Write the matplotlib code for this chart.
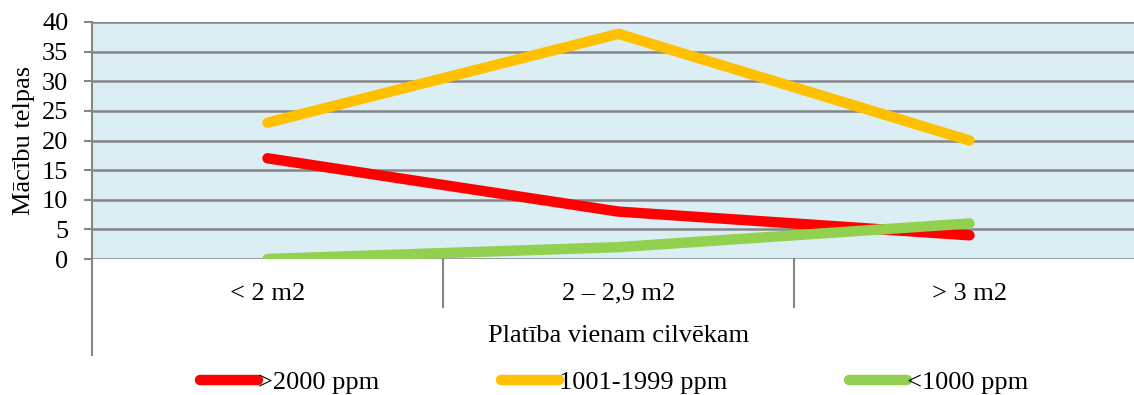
import numpy as np
import matplotlib.pyplot as plt
from matplotlib.transforms import blended_transform_factory

plt.rcParams['font.family'] = ['Liberation Serif', 'DejaVu Serif']

categories = ['< 2 m2', '2 – 2,9 m2', '> 3 m2']
high = [17, 8, 4]
mid = [23, 38, 20]
low = [0, 2, 6]
series_names = ['>2000 ppm', '1001-1999 ppm', '<1000 ppm']
colors = ['#FF0000', '#FFC000', '#92D050']

W, H = 1134, 395
fig = plt.figure(figsize=(W / 100, H / 100), dpi=100)
ax = fig.add_axes([92 / W, 1 - 259 / H, (1145 - 92) / W, (259 - 22) / H])
ax.set_facecolor('#DBEEF4')

x = np.arange(len(categories))
for vals, name, c in zip([high, mid, low], series_names, colors):
    ax.plot(x, vals, color=c, lw=7.5, solid_capstyle='round', label=name, zorder=3)

ax.set_xlim(-0.5, 2.5)
ax.set_ylim(0, 40)
ax.set_yticks(range(0, 41, 5))
ax.yaxis.grid(True, color='#868686', lw=1.8)
ax.set_axisbelow(True)
ax.tick_params(axis='y', length=6, width=1.5, color='#868686', labelsize=19, pad=11)
ax.set_xticks(x)
ax.set_xticklabels(categories, fontsize=19)
ax.tick_params(axis='x', length=0, pad=17)
for s in ax.spines.values():
    s.set_visible(False)

# axis lines in Excel style
tr = blended_transform_factory(ax.transData, ax.transAxes)
ax.plot([-0.5, -0.5], [1, -96 / 237], transform=tr, color='#868686', lw=1.5, clip_on=False)
for b in [0.5, 1.5]:
    ax.plot([b, b], [0, -48 / 237], transform=tr, color='#868686', lw=1.5, clip_on=False)

ax.set_ylabel('Mācību telpas', fontsize=19, labelpad=5)
ax.set_xlabel('Platība vienam cilvēkam', fontsize=19, labelpad=15)

leg = ax.legend(loc='center', bbox_to_anchor=(614 / W, 1 - 382 / H), bbox_transform=fig.transFigure,
                ncol=3, frameon=False, fontsize=19, handlelength=2.2, handletextpad=0.0,
                columnspacing=4.6)

fig.savefig('out.png', dpi=100)
